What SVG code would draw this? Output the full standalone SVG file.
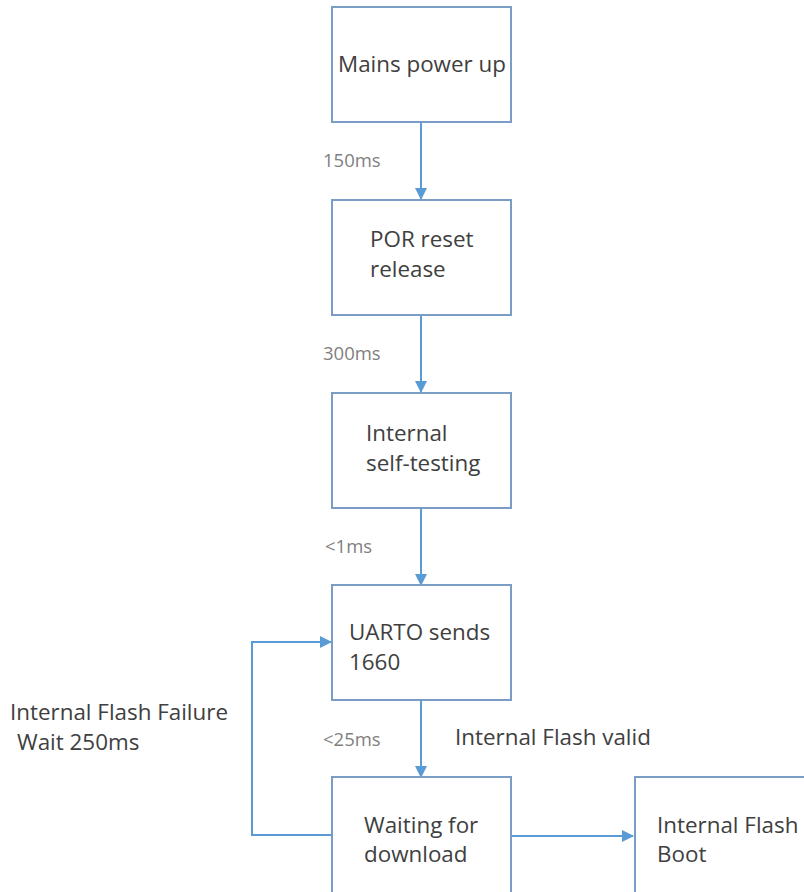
<svg xmlns="http://www.w3.org/2000/svg" width="804" height="892" viewBox="0 0 804 892">
<style>
.box{fill:#ffffff;stroke:#7b9cc4;stroke-width:2}
.t{font-family:"Open Sans","Noto Sans",sans-serif;font-size:22.4px;fill:#404040}
.lbl{font-family:"Open Sans","Noto Sans",sans-serif;font-size:18.5px;fill:#808080}
.c{fill:none;stroke:#5b9bd5;stroke-width:2}
</style>
<defs>
<marker id="ah" markerWidth="12" markerHeight="12" refX="11" refY="6" orient="auto" markerUnits="userSpaceOnUse">
<path d="M0,0 L12,6 L0,12 Z" fill="#5b9bd5"/>
</marker>
</defs>
<rect width="804" height="892" fill="#ffffff"/>
<g id="connectors">
<line class="c" x1="421" y1="122" x2="421" y2="199" marker-end="url(#ah)"/>
<line class="c" x1="421" y1="315" x2="421" y2="392" marker-end="url(#ah)"/>
<line class="c" x1="421" y1="508" x2="421" y2="585" marker-end="url(#ah)"/>
<line class="c" x1="421" y1="700" x2="421" y2="777" marker-end="url(#ah)"/>
<polyline class="c" points="332,835 252,835 252,642 331,642" marker-end="url(#ah)"/>
<line class="c" x1="512" y1="836" x2="633" y2="836" marker-end="url(#ah)"/>
<text class="lbl" x="323" y="167">150ms</text>
<text class="lbl" x="323" y="360">300ms</text>
<text class="lbl" x="325" y="553">&lt;1ms</text>
<text class="lbl" x="323" y="746">&lt;25ms</text>
<text class="t" x="455" y="745">Internal Flash valid</text>
<text class="t" x="10" y="720">Internal Flash Failure</text>
<text class="t" x="17" y="750">Wait 250ms</text>
</g>
<g id="n1">
<rect class="box" x="332" y="7" width="179" height="115"/>
<text class="t" x="338" y="72">Mains power up</text>
</g>
<g id="n2">
<rect class="box" x="332" y="200" width="179" height="115"/>
<text class="t" x="370" y="247">POR reset</text>
<text class="t" x="370" y="277">release</text>
</g>
<g id="n3">
<rect class="box" x="332" y="393" width="179" height="115"/>
<text class="t" x="366" y="441">Internal</text>
<text class="t" x="366" y="471">self-testing</text>
</g>
<g id="n4">
<rect class="box" x="332" y="585" width="179" height="115"/>
<text class="t" x="349" y="640">UARTO sends</text>
<text class="t" x="349" y="670">1660</text>
</g>
<g id="n5">
<rect class="box" x="332" y="777" width="179" height="116"/>
<text class="t" x="364" y="833">Waiting for</text>
<text class="t" x="364" y="862">download</text>
</g>
<g id="n6">
<rect class="box" x="635" y="777" width="180" height="116"/>
<text class="t" x="657" y="833">Internal Flash</text>
<text class="t" x="657" y="862">Boot</text>
</g>
</svg>
